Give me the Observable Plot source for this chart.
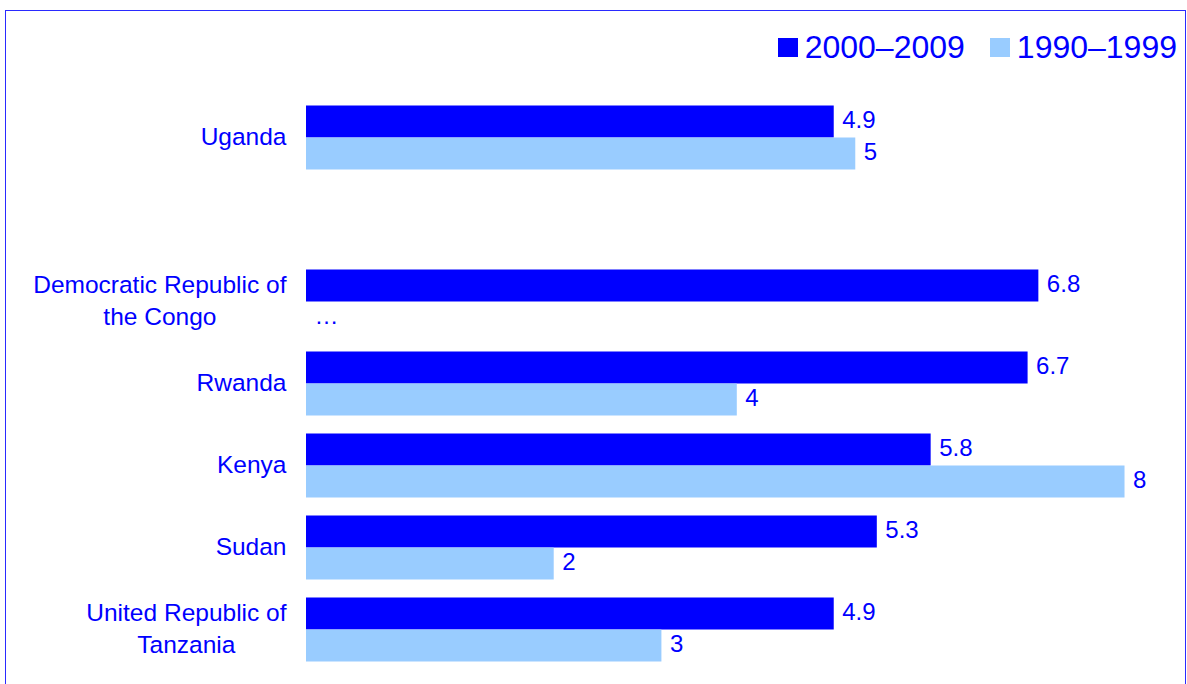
<!DOCTYPE html>
<html>
<head>
<meta charset="utf-8">
<script src="https://cdn.jsdelivr.net/npm/d3@7"></script>
<script src="https://cdn.jsdelivr.net/npm/@observablehq/plot@0.6"></script>
<style>
  body { margin: 0; background: #fff; }
  #wrap { position: relative; width: 1187px; height: 684px; overflow: hidden; background: #fff;
          font-family: "Liberation Sans", Arial, sans-serif; color: #0000ff; }
  #legend { position: absolute; top: 28px; right: 10px; height: 38px; display: flex; align-items: center; font-size: 32px; line-height: 38px; }
  #legend .item { display: flex; align-items: center; margin-left: 25px; }
  #legend .sw { width: 20px; height: 19px; margin-right: 7px; }
  #chart { position: absolute; left: 0; top: 80px; }
  #frame { position: absolute; left: 5px; top: 9.5px; width: 1181px; height: 800px; border: 1.5px solid #2a2aff; box-sizing: border-box; pointer-events: none; }
</style>
</head>
<body>
<div id="wrap">
  <div id="legend"></div>
  <div id="chart"></div>
  <div id="frame"></div>
</div>
<script>
// ---- data ----
const countries = [
  "Uganda",
  "Democratic Republic of\nthe Congo",
  "Rwanda",
  "Kenya",
  "Sudan",
  "United Republic of\nTanzania"
];
const gapAfter = "Uganda"; // an empty row follows Uganda
const series = ["2000–2009", "1990–1999"];
const colors = ["#0000ff", "#99ccff"];
const values2000 = [4.9, 6.8, 6.7, 5.8, 5.3, 4.9];
const values1990 = [5.1, null, 4.0, 7.6, 2.3, 3.3];
const xDomain = [0, 8];

// ---- build table ----
const rows = countries.flatMap((c, i) => [
  {country: c, series: series[0], value: values2000[i]},
  {country: c, series: series[1], value: values1990[i]}
]);
const fyDomain = countries.flatMap(c => c === gapAfter ? [c, "\u200b"] : [c]);
const fmt1 = d3.format(".1f"), fmt0 = d3.format(".0f");
const labelText = d => d.value == null ? "…" : (d.series === series[0] ? fmt1(d.value) : fmt0(d.value));

// ---- legend ----
const legend = d3.select("#legend");
series.forEach((s, i) => {
  const it = legend.append("div").attr("class", "item");
  it.append("div").attr("class", "sw").style("background", colors[i]);
  it.append("span").text(s);
});

// ---- chart ----
const chart = Plot.plot({
  width: 1187,
  height: 604,
  marginLeft: 306,
  marginRight: 19.4,
  marginTop: 23.5,
  marginBottom: 22,
  x: {domain: xDomain, axis: null},
  y: {domain: series, axis: null, padding: 0},
  fy: {domain: fyDomain, axis: null, paddingInner: 18.33 / 82.33, paddingOuter: 0},
  color: {domain: series, range: colors},
  style: {fontFamily: "'Liberation Sans', Arial, sans-serif", fontSize: "24px", background: "transparent", color: "#0000ff"},
  marks: [
    Plot.barX(rows.filter(d => d.value != null), {fy: "country", y: "series", x: "value", fill: "series"}),
    Plot.text(rows, {
      fy: "country", y: "series", x: d => d.value ?? 0,
      text: labelText, textAnchor: "start", dx: 8, dy: -2, fill: "#0000ff", fontSize: 24
    }),
    Plot.text(countries, {
      fy: d => d, frameAnchor: "left", textAnchor: "end", dx: -20, dy: -3,
      text: d => d, lineAnchor: "middle", lineHeight: 1.3, fill: "#0000ff", fontSize: 24.5
    })
  ]
});
document.getElementById("chart").appendChild(chart);

// center multi-line category labels within their right-aligned block
d3.select(chart).selectAll("text")
  .filter(function () { return this.querySelectorAll("tspan").length > 1; })
  .each(function () {
    const tspans = Array.from(this.querySelectorAll("tspan"));
    const w = d3.max(tspans, t => t.getComputedTextLength());
    this.setAttribute("text-anchor", "middle");
    tspans.forEach(t => t.setAttribute("text-anchor", "middle"));
    const tr = this.getAttribute("transform") || "";
    this.setAttribute("transform", tr + ` translate(${-w / 2},0)`);
  });
</script>
</body>
</html>
